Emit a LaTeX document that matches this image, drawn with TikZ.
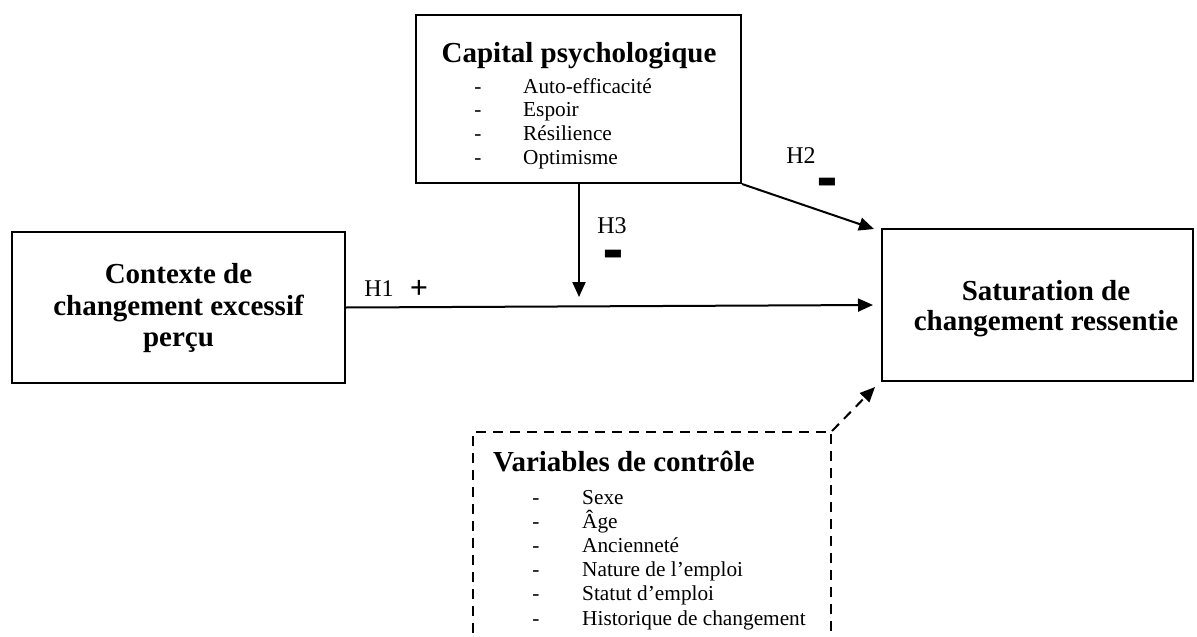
\documentclass[tikz,border=0pt]{standalone}
\usepackage{fontspec}
\setmainfont{Liberation Serif}
\newfontfamily\symfont{DejaVu Sans}
\usetikzlibrary{arrows.meta}
\begin{document}
\begin{tikzpicture}[x=1pt,y=-1pt,
  box/.style={draw,line width=2pt,inner sep=0pt},
  dbox/.style={draw,line width=2pt,inner sep=0pt,dash pattern=on 10pt off 7pt},
  arr/.style={line width=2pt,-{Triangle[length=15pt,width=13pt]}},
  ttl/.style={font=\fontsize{29}{31}\selectfont\bfseries,inner sep=0pt,anchor=base},
  itm/.style={font=\fontsize{21.3}{24}\selectfont,inner sep=0pt,anchor=base west},
  dsh/.style={font=\fontsize{21.3}{24}\selectfont,inner sep=0pt,anchor=base},
  hl/.style={font=\fontsize{24}{24}\selectfont,inner sep=0pt,anchor=base},
  sgn/.style={inner sep=0pt,anchor=center,font=\fontsize{32}{32}\selectfont\bfseries},
  msgn/.style={inner sep=0pt,anchor=center,font=\fontsize{21}{21}\selectfont\symfont}]
\useasboundingbox (0,0) rectangle (1197,637);
\clip (0,0) rectangle (1197,637);

% boxes
\node[box,minimum width=325pt,minimum height=168pt] (cap) at (578.5,99) {};
\node[box,minimum width=333pt,minimum height=151pt] (ctx) at (178.5,307.5) {};
\node[box,minimum width=311pt,minimum height=152pt] (sat) at (1037.5,305) {};
\node[dbox,minimum width=358pt,minimum height=300pt] (ctrl) at (652,582) {};

% top box text
\node[ttl] (capt) at (579,62) {Capital psychologique};
\node[dsh] (cd1) at (478,93) {-};
\node[itm] (ci1) at (523,93) {Auto-efficacité};
\node[dsh] (cd2) at (478,116) {-};
\node[itm] (ci2) at (523,116) {Espoir};
\node[dsh] (cd3) at (478,140) {-};
\node[itm] (ci3) at (523,140) {Résilience};
\node[dsh] (cd4) at (478,164) {-};
\node[itm] (ci4) at (523,164) {Optimisme};

% left box text
\node[ttl] (ctx1) at (178.5,283) {Contexte de};
\node[ttl] (ctx2) at (178.5,315) {changement excessif};
\node[ttl] (ctx3) at (178.5,346) {perçu};

% right box text
\node[ttl] (sat1) at (1046,300) {Saturation de};
\node[ttl] (sat2) at (1046,330) {changement ressentie};

% control box text
\node[ttl,anchor=base west] (ctrlt) at (493,471) {Variables de contrôle};
\node[dsh] (vd1) at (536,504) {-};
\node[itm] (vi1) at (582,504) {Sexe};
\node[dsh] (vd2) at (536,528) {-};
\node[itm] (vi2) at (582,528) {Âge};
\node[dsh] (vd3) at (536,552) {-};
\node[itm] (vi3) at (582,552) {Ancienneté};
\node[dsh] (vd4) at (536,576) {-};
\node[itm] (vi4) at (582,576) {Nature de l’emploi};
\node[dsh] (vd5) at (536,600) {-};
\node[itm] (vi5) at (582,600) {Statut d’emploi};
\node[dsh] (vd6) at (536,625) {-};
\node[itm] (vi6) at (582,625) {Historique de changement};

% connectors
\coordinate (h1e) at (873,305);
\coordinate (h2e) at (874,229);
\coordinate (h3e) at (579,297);
\coordinate (cte) at (875,387);
\draw[arr] (ctx.east) -- (h1e);
\draw[arr] (cap.south east) -- (h2e);
\draw[arr] (cap.south -| h3e) -- (h3e);
\draw[arr,dash pattern=on 10pt off 7pt] (ctrl.north east) -- (cte);

% labels
\node[hl] (lh1) at (379,296) {H1};
\node[sgn] (lp1) at (419,289) {+};
\node[hl] (lh2) at (801,163) {H2};
\node[msgn] (lm2) at (827,183) {▬};
\node[hl] (lh3) at (612,233) {H3};
\node[msgn] (lm3) at (613,255) {▬};
\end{tikzpicture}
\end{document}
